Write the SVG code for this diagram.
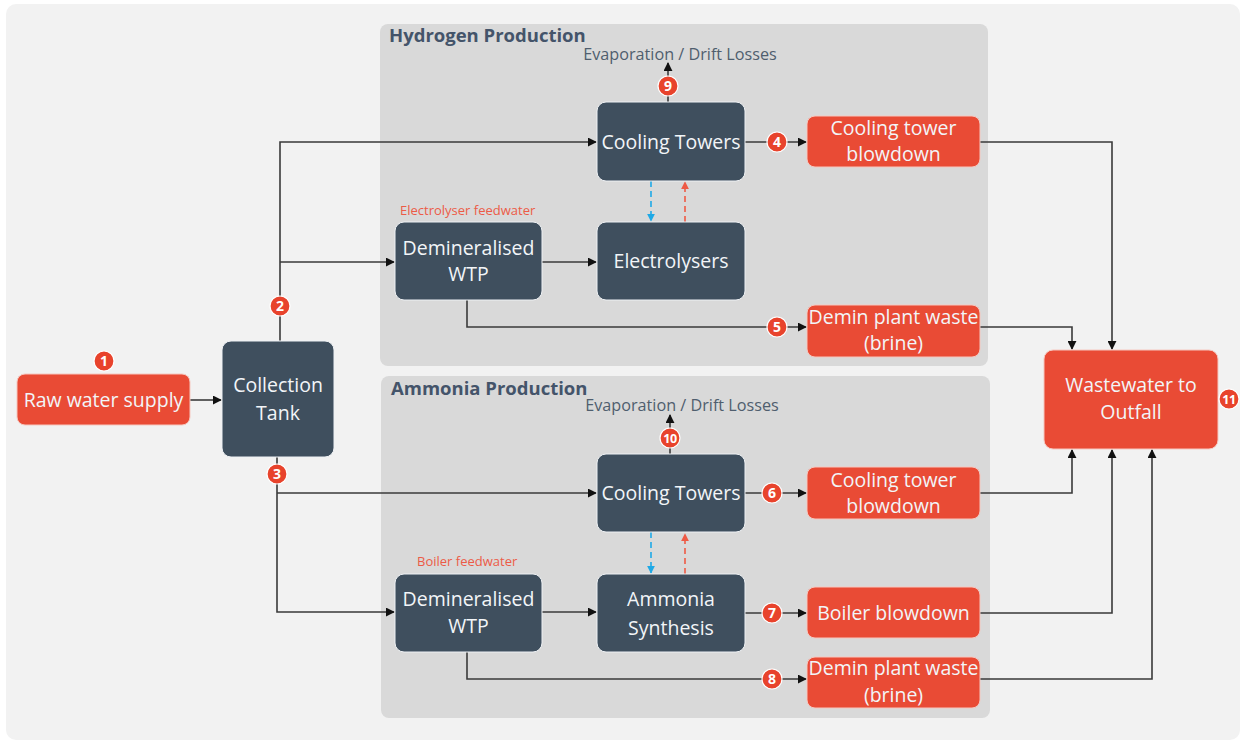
<svg xmlns="http://www.w3.org/2000/svg" width="1244" height="744" viewBox="0 0 1244 744">
<defs>
<marker id="ah" viewBox="0 0 10 10" refX="9" refY="5" markerWidth="9" markerHeight="9" markerUnits="userSpaceOnUse" orient="auto"><path d="M0,0 L10,5 L0,10 z" fill="#111"/></marker>
<marker id="ahb" viewBox="0 0 10 10" refX="9" refY="5" markerWidth="8" markerHeight="13" markerUnits="userSpaceOnUse" orient="auto"><path d="M0,0 L10,5 L0,10 z" fill="#1fa9e6"/></marker>
<marker id="ahr" viewBox="0 0 10 10" refX="9" refY="5" markerWidth="8" markerHeight="13" markerUnits="userSpaceOnUse" orient="auto"><path d="M0,0 L10,5 L0,10 z" fill="#ee5a45"/></marker>
</defs>
<style>
.panel{fill:#d9d9d9}
.ptitle{font-family:"Open Sans","Liberation Sans",sans-serif;font-weight:700;font-size:18.5px;fill:#44546a}
.dark{fill:#3f4f5e;stroke:#eef1f4;stroke-width:1}
.red{fill:#e94b35;stroke:#f6c8c0;stroke-width:1}
.nt{font-family:"Open Sans","Liberation Sans",sans-serif;font-size:19.5px;fill:#f2f5f8;text-anchor:middle}
.evap{font-family:"Open Sans","Liberation Sans",sans-serif;font-size:16.2px;fill:#4f5e6e;text-anchor:middle}
.fw{font-family:"Open Sans","Liberation Sans",sans-serif;font-size:13px;fill:#ec5b47}
.ln{fill:none;stroke:#3a3a3a;stroke-width:1.6}
.db{fill:none;stroke:#1fa9e6;stroke-width:1.6;stroke-dasharray:6,4}
.dr{fill:none;stroke:#ee5a45;stroke-width:1.6;stroke-dasharray:6,4}
.bc{fill:#e8432c;stroke:#ffffff;stroke-width:1.2}
.bt{font-family:"Open Sans","Liberation Sans",sans-serif;font-size:14px;font-weight:700;fill:#ffffff;text-anchor:middle}
.bt2{font-size:12.5px;letter-spacing:-0.5px}
</style>
<rect x="0" y="0" width="1244" height="744" fill="#ffffff"/>
<rect x="6" y="4" width="1234" height="736" rx="10" fill="#f2f2f2"/>
<g id="panel-hydrogen">
<rect class="panel" x="380" y="24" width="608" height="342" rx="8"/>
<text class="ptitle" x="389" y="42">Hydrogen Production</text>
</g>
<g id="panel-ammonia">
<rect class="panel" x="381" y="376" width="609" height="342" rx="8"/>
<text class="ptitle" x="391" y="395">Ammonia Production</text>
</g>
<g id="connectors">
<path class="ln" d="M190,400 H221" marker-end="url(#ah)"/>
<path class="ln" d="M280,341 V142 H596" marker-end="url(#ah)"/>
<path class="ln" d="M280,262 H394" marker-end="url(#ah)"/>
<path class="ln" d="M277,457 V612 H394" marker-end="url(#ah)"/>
<path class="ln" d="M277,493 H596" marker-end="url(#ah)"/>
<path class="ln" d="M745,142 H806" marker-end="url(#ah)"/>
<path class="ln" d="M542,262 H596" marker-end="url(#ah)"/>
<path class="ln" d="M467,300 V327 H806" marker-end="url(#ah)"/>
<path class="ln" d="M980,142 H1112 V349" marker-end="url(#ah)"/>
<path class="ln" d="M980,327 H1072 V349" marker-end="url(#ah)"/>
<path class="ln" d="M668,102 V63" marker-end="url(#ah)"/>
<path class="db" d="M651,181 V221" marker-end="url(#ahb)"/>
<path class="dr" d="M685,222 V182" marker-end="url(#ahr)"/>
<path class="ln" d="M745,493 H806" marker-end="url(#ah)"/>
<path class="ln" d="M542,612 H596" marker-end="url(#ah)"/>
<path class="ln" d="M745,613 H806" marker-end="url(#ah)"/>
<path class="ln" d="M467,652 V679 H806" marker-end="url(#ah)"/>
<path class="ln" d="M980,493 H1072 V450" marker-end="url(#ah)"/>
<path class="ln" d="M980,613 H1112 V450" marker-end="url(#ah)"/>
<path class="ln" d="M980,679 H1152 V450" marker-end="url(#ah)"/>
<path class="ln" d="M670,454 V415" marker-end="url(#ah)"/>
<path class="db" d="M651,532 V573" marker-end="url(#ahb)"/>
<path class="dr" d="M685,574 V534" marker-end="url(#ahr)"/>
</g>
<g id="evap-h"><text class="evap" x="680" y="60">Evaporation / Drift Losses</text></g>
<g id="evap-a"><text class="evap" x="682" y="411">Evaporation / Drift Losses</text></g>
<g id="label-electrolyser-feedwater"><text class="fw" x="400" y="215">Electrolyser feedwater</text></g>
<g id="label-boiler-feedwater"><text class="fw" x="417" y="566">Boiler feedwater</text></g>
<g id="raw-water"><rect class="red" x="17" y="374" width="173" height="51" rx="8"/><text class="nt" x="103.5" y="407">Raw water supply</text></g>
<g id="collection-tank"><rect class="dark" x="222" y="341" width="112" height="116" rx="9"/><text class="nt" x="278" y="392">Collection</text><text class="nt" x="278" y="420">Tank</text></g>
<g id="cooling-towers-h"><rect class="dark" x="597" y="102" width="148" height="79" rx="9"/><text class="nt" x="671" y="149">Cooling Towers</text></g>
<g id="demin-wtp-h"><rect class="dark" x="395" y="222" width="147" height="78" rx="9"/><text class="nt" x="468.5" y="255">Demineralised</text><text class="nt" x="468.5" y="281">WTP</text></g>
<g id="electrolysers"><rect class="dark" x="597" y="222" width="148" height="78" rx="9"/><text class="nt" x="671" y="268">Electrolysers</text></g>
<g id="ct-blowdown-h"><rect class="red" x="807" y="116" width="173" height="51" rx="8"/><text class="nt" x="893.5" y="135">Cooling tower</text><text class="nt" x="893.5" y="161">blowdown</text></g>
<g id="demin-waste-h"><rect class="red" x="807" y="305" width="173" height="52" rx="8"/><text class="nt" x="893.5" y="324">Demin plant waste</text><text class="nt" x="893.5" y="350">(brine)</text></g>
<g id="wastewater"><rect class="red" x="1044" y="350" width="174" height="99" rx="9"/><text class="nt" x="1131" y="392">Wastewater to</text><text class="nt" x="1131" y="419">Outfall</text></g>
<g id="cooling-towers-a"><rect class="dark" x="597" y="454" width="148" height="78" rx="9"/><text class="nt" x="671" y="500">Cooling Towers</text></g>
<g id="demin-wtp-a"><rect class="dark" x="395" y="574" width="147" height="78" rx="9"/><text class="nt" x="468.5" y="606">Demineralised</text><text class="nt" x="468.5" y="633">WTP</text></g>
<g id="ammonia-synthesis"><rect class="dark" x="597" y="574" width="148" height="78" rx="9"/><text class="nt" x="671" y="606">Ammonia</text><text class="nt" x="671" y="635">Synthesis</text></g>
<g id="ct-blowdown-a"><rect class="red" x="807" y="467" width="173" height="52" rx="8"/><text class="nt" x="893.5" y="487">Cooling tower</text><text class="nt" x="893.5" y="513">blowdown</text></g>
<g id="boiler-blowdown"><rect class="red" x="807" y="587" width="173" height="51" rx="8"/><text class="nt" x="893.5" y="620">Boiler blowdown</text></g>
<g id="demin-waste-a"><rect class="red" x="807" y="657" width="173" height="51" rx="8"/><text class="nt" x="893.5" y="675">Demin plant waste</text><text class="nt" x="893.5" y="702">(brine)</text></g>
<g id="badges">
<circle class="bc" cx="104" cy="361" r="10"/><text class="bt" x="104" y="366">1</text>
<circle class="bc" cx="280" cy="306" r="10"/><text class="bt" x="280" y="311">2</text>
<circle class="bc" cx="277" cy="474" r="10"/><text class="bt" x="277" y="479">3</text>
<circle class="bc" cx="777" cy="142" r="10"/><text class="bt" x="777" y="147">4</text>
<circle class="bc" cx="777" cy="327" r="10"/><text class="bt" x="777" y="332">5</text>
<circle class="bc" cx="772" cy="493" r="10"/><text class="bt" x="772" y="498">6</text>
<circle class="bc" cx="772" cy="613" r="10"/><text class="bt" x="772" y="618">7</text>
<circle class="bc" cx="772" cy="679" r="10"/><text class="bt" x="772" y="684">8</text>
<circle class="bc" cx="668" cy="86" r="10"/><text class="bt" x="668" y="91">9</text>
<circle class="bc" cx="670" cy="438" r="10"/><text class="bt bt2" x="670" y="442.5">10</text>
<circle class="bc" cx="1229" cy="399" r="10"/><text class="bt bt2" x="1229" y="403.5">11</text>
</g>
</svg>
